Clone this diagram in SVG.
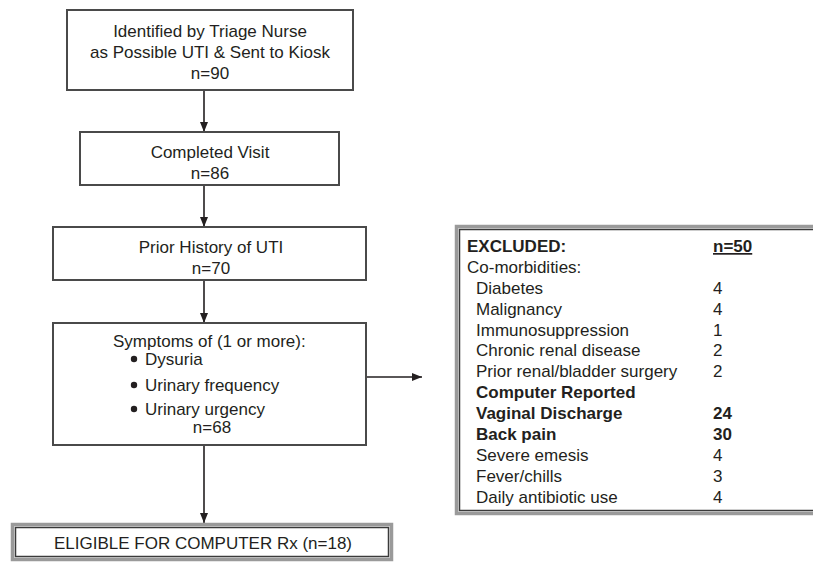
<svg xmlns="http://www.w3.org/2000/svg" width="813" height="565" viewBox="0 0 813 565">
<defs>
<style>
.t{font-family:"Liberation Sans",Arial,sans-serif;font-size:17px;fill:#231f20}
.c{text-anchor:middle}
.b{font-weight:bold}
.box{fill:#fff;stroke:#4a4a4a;stroke-width:2}
.dbo{fill:#fff;stroke:#9a9a9a;stroke-width:3.5}
.dbi{fill:none;stroke:#3a3a3a;stroke-width:1.5}
.con{stroke:#231f20;stroke-width:1.6;fill:none;marker-end:url(#ah)}
</style>
<marker id="ah" markerUnits="userSpaceOnUse" markerWidth="10" markerHeight="8" refX="10" refY="4" orient="auto">
<path d="M0,0 L10,4 L0,8 z" fill="#231f20"/>
</marker>
</defs>
<rect width="813" height="565" fill="#fff"/>

<g id="connectors">
<line class="con" x1="204" y1="91" x2="204" y2="132"/>
<line class="con" x1="204" y1="186" x2="204" y2="227"/>
<line class="con" x1="204" y1="281" x2="204" y2="323"/>
<line class="con" x1="204" y1="446" x2="204" y2="523"/>
<line class="con" x1="367" y1="377" x2="422" y2="377"/>
</g>

<g id="n1">
<rect class="box" x="67" y="10" width="286" height="80"/>
<text class="t c" x="210" y="37">Identified by Triage Nurse</text>
<text class="t c" x="210" y="58">as Possible UTI &amp; Sent to Kiosk</text>
<text class="t c" x="210" y="79">n=90</text>
</g>

<g id="n2">
<rect class="box" x="80" y="132" width="259" height="53"/>
<text class="t c" x="210" y="158">Completed Visit</text>
<text class="t c" x="210" y="179">n=86</text>
</g>

<g id="n3">
<rect class="box" x="53" y="227" width="313" height="53"/>
<text class="t c" x="211" y="253">Prior History of UTI</text>
<text class="t c" x="211" y="274">n=70</text>
</g>

<g id="n4">
<rect class="box" x="53" y="323" width="313" height="122"/>
<text class="t" x="113" y="347">Symptoms of (1 or more):</text>
<circle cx="134" cy="359" r="3.2" fill="#231f20"/>
<text class="t" x="145" y="365">Dysuria</text>
<circle cx="134" cy="385" r="3.2" fill="#231f20"/>
<text class="t" x="145" y="391">Urinary frequency</text>
<circle cx="134" cy="409" r="3.2" fill="#231f20"/>
<text class="t" x="145" y="415">Urinary urgency</text>
<text class="t c" x="212" y="433">n=68</text>
</g>

<g id="n5">
<rect class="dbo" x="12.5" y="524.5" width="379" height="35"/>
<rect class="dbi" x="15.5" y="527.5" width="373" height="29"/>
<text class="t c" x="203" y="549">ELIGIBLE FOR COMPUTER Rx (n=18)</text>
</g>

<g id="n6">
<rect class="dbo" x="456.5" y="226.5" width="360" height="287"/>
<rect class="dbi" x="459.5" y="229.5" width="360" height="281"/>
<text class="t b" x="467" y="252">EXCLUDED:</text>
<text class="t b" x="713" y="252" text-decoration="underline">n=50</text>
<text class="t" x="467" y="273">Co-morbidities:</text>
<text class="t" x="476" y="294">Diabetes</text><text class="t" x="713" y="294">4</text>
<text class="t" x="476" y="315">Malignancy</text><text class="t" x="713" y="315">4</text>
<text class="t" x="476" y="336">Immunosuppression</text><text class="t" x="713" y="336">1</text>
<text class="t" x="476" y="356">Chronic renal disease</text><text class="t" x="713" y="356">2</text>
<text class="t" x="476" y="377">Prior renal/bladder surgery</text><text class="t" x="713" y="377">2</text>
<text class="t b" x="476" y="398">Computer Reported</text>
<text class="t b" x="476" y="419">Vaginal Discharge</text><text class="t b" x="713" y="419">24</text>
<text class="t b" x="476" y="440">Back pain</text><text class="t b" x="713" y="440">30</text>
<text class="t" x="476" y="461">Severe emesis</text><text class="t" x="713" y="461">4</text>
<text class="t" x="476" y="482">Fever/chills</text><text class="t" x="713" y="482">3</text>
<text class="t" x="476" y="503">Daily antibiotic use</text><text class="t" x="713" y="503">4</text>
</g>
</svg>
